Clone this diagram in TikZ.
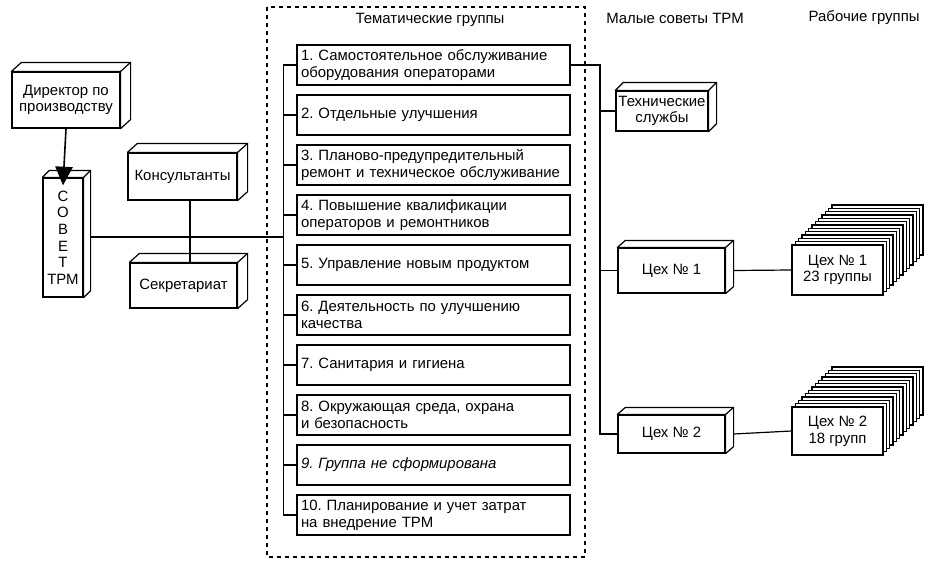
\documentclass[tikz,border=0pt]{standalone}
\usepackage{fontspec}
\setmainfont{Liberation Sans}
\usetikzlibrary{arrows.meta}
\frenchspacing
\newcommand\cubeface[3]{\draw[line width=0.9pt,fill=white,line join=round] (#1.north west) -- ++(#2,#3) -- ([shift={(#2,#3)}]#1.north east) -- ([shift={(#2,#3)}]#1.south east) -- (#1.south east) -- (#1.north east) -- cycle; \draw[line width=0.9pt] (#1.north east) -- ++(#2,#3);}
\begin{document}
\begin{tikzpicture}[x=0.75pt,y=-0.75pt,
  every node/.style={font=\fontsize{11.2}{12.5}\selectfont},
  box/.style={draw,line width=0.9pt,fill=white,inner sep=0pt},
  theme/.style={box,minimum width=273*0.75pt,minimum height=40*0.75pt,text width=265*0.75pt,align=left},
  ln/.style={line width=0.9pt}]
\useasboundingbox (0,0) rectangle (932,564);
\fill[white] (0,0) rectangle (932,564);
% dashed frame
\draw[dashed,line width=0.8pt] (267,7) rectangle (585,557);
\node (ttl) at (430,20) {Тематические группы};
\node (h1) at (675,18) {Малые советы ТРМ};
\node[anchor=west] (h2) at (804,18) {Рабочие группы};
% theme boxes
\foreach \i/\t in {1/{1. Самостоятельное обслуживание\\оборудования операторами},
  2/{2. Отдельные улучшения},
  3/{3. Планово-предупредительный\\ремонт и техническое обслуживание},
  4/{4. Повышение квалификации\\операторов и ремонтников},
  5/{5. Управление новым продуктом},
  6/{6. Деятельность по улучшению\\качества},
  7/{7. Санитария и гигиена},
  8/{8. Окружающая среда, охрана\\и безопасность},
  9/{\itshape 9. Группа не сформирована},
  10/{10. Планирование и учет затрат\\на внедрение ТРМ}}
{
  \node[theme] (t\i) at (433.5,{65+50*(\i-1)}) {\t};
  \draw[ln] (t\i.west) -- ++(-13,0) coordinate (b\i);
}
\draw[ln] (b1) -- (b10);
% left side
\node[box,minimum width=108*0.75pt,minimum height=56*0.75pt,align=center] (dir) at (66,100) {Директор по\\производству};
\cubeface{dir}{10}{-9}
\node[box,minimum width=40*0.75pt,minimum height=119*0.75pt,align=center] (sov) at (63,237.5) {С\\О\\В\\Е\\Т\\ТРМ};
\cubeface{sov}{7}{-7}
\draw[line width=1.2pt,-{Triangle[length=14pt,width=13pt]}] (dir.south) -- ([yshift=-8*0.75pt]sov.north);
\node[box,minimum width=109*0.75pt,minimum height=47*0.75pt] (kons) at (182.5,176.5) {Консультанты};
\cubeface{kons}{10}{-9}
\node[box,minimum width=107*0.75pt,minimum height=45*0.75pt] (sekr) at (183.5,285.5) {Секретариат};
\cubeface{sekr}{10}{-9}
\coordinate (j) at (190,237);
\draw[ln] (sov.east |- j) ++(7,0) -- (b4 |- j);
\draw[ln] (kons.south -| j) -- (sekr.north -| j);
% right side
\node[box,minimum width=92*0.75pt,minimum height=40*0.75pt,align=center] (tech) at (662,111) {Технические\\службы};
\cubeface{tech}{8}{-8}
\node[box,minimum width=107*0.75pt,minimum height=45*0.75pt] (c1) at (671.5,270.5) {Цех № 1};
\cubeface{c1}{8}{-7}
\node[box,minimum width=107*0.75pt,minimum height=38*0.75pt] (c2) at (671.5,434) {Цех № 2};
\cubeface{c2}{8}{-7}
\coordinate (rb) at (600,65);
\draw[ln] (t1.east) -- (rb) -- (rb |- c2.west) -- (c2.west);
\draw[ln] (rb |- tech.west) -- (tech.west);
\draw[ln] (rb |- c1.west) -- (c1.west);
% stacks
\foreach \k in {12,...,1} {
  \draw[ln,fill=white] ({792+\k*3.33},{245-\k*3.33}) rectangle ({883+\k*3.33},{295-\k*3.33});
  \draw[ln,fill=white] ({792+\k*3.33},{407-\k*3.33}) rectangle ({883+\k*3.33},{455-\k*3.33});
}
\node[box,minimum width=91*0.75pt,minimum height=50*0.75pt,align=center] (g1) at (837.5,270) {Цех № 1\\23 группы};
\node[box,minimum width=91*0.75pt,minimum height=48*0.75pt,align=center] (g2) at (837.5,431) {Цех № 2\\18 групп};
\draw[ln] ([xshift=8*0.75pt]c1.east) -- (g1.west);
\draw[ln] ([xshift=8*0.75pt]c2.east) -- (g2.west);
\end{tikzpicture}
\end{document}
